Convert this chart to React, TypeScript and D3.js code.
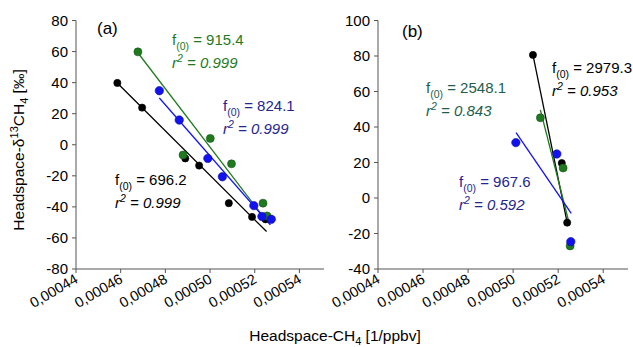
import { useRef, useEffect } from "react";
import * as d3 from "d3";

// shared x ticks (1/ppbv)
const xTicks = [0.00044, 0.00046, 0.00048, 0.0005, 0.00052, 0.00054];

// panel (a)
const aYTicks = [-80, -60, -40, -20, 0, 20, 40, 60, 80];
const aBlackX = [0.0004585, 0.0004696, 0.0004889, 0.0004951, 0.0005084, 0.0005188, 0.0005248];
const aBlackY = [39.8, 23.9, -8.8, -13.4, -37.6, -46.5, -48];
const aGreenX = [0.0004677, 0.0004879, 0.0005001, 0.0005096, 0.0005237, 0.0005255];
const aGreenY = [59.8, -6.6, 4.1, -12.3, -37.6, -45.8];
const aBlueX = [0.0004773, 0.0004862, 0.000499, 0.0005055, 0.0005196, 0.0005232, 0.0005274];
const aBlueY = [34.8, 15.9, -8.8, -20.6, -39.2, -46.2, -48];
// fit lines [x0, y0, x1, y1]
const aBlackFit = [0.0004587, 39.4, 0.0005253, -55.9];
const aGreenFit = [0.0004676, 59.4, 0.0005255, -49.5];
const aBlueFit = [0.0004773, 30.1, 0.000527, -51.6];

// panel (b)
const bYTicks = [-40, -20, 0, 20, 40, 60, 80, 100];
const bBlackX = [0.0005088, 0.0005216, 0.000524];
const bBlackY = [80.6, 19.7, -13.9];
const bGreenX = [0.0005121, 0.0005222, 0.0005253];
const bGreenY = [45.2, 16.9, -27];
const bBlueX = [0.0005012, 0.0005194, 0.0005256];
const bBlueY = [31.2, 24.8, -24.6];
const bBlackFit = [0.0005088, 80.6, 0.0005242, -15.2];
const bGreenFit = [0.0005121, 49.6, 0.000525, -14.8];
const bBlueFit = [0.0005013, 36.8, 0.0005258, -8.6];

const GREEN = "#1f7a1f";
const BLUE = "#1212f0";
const NAVY = "#25258f";
const TEAL = "#1f5e4c";
const FONT = "'Liberation Sans', Arial, sans-serif";

const App = () => {
  const svgRef = useRef<SVGSVGElement | null>(null);

  useEffect(() => {
    if (!svgRef.current) return;
    const svg = d3.select(svgRef.current);
    svg.selectAll("*").remove();
    svg.style("font-family", FONT);

    const fmt = (v: number) => v.toFixed(5).replace(".", ",");

    function panel(opts: any) {
      const x = d3.scaleLinear().domain([0.00044, 0.000551]).range(opts.xr);
      const y = d3.scaleLinear().domain(opts.yd).range([269, 20.5]);
      const g = svg.append("g");

      // axes
      g.append("line")
        .attr("x1", opts.xr[0]).attr("x2", opts.xr[0])
        .attr("y1", 20.5).attr("y2", 269)
        .attr("stroke", "#555").attr("stroke-width", 1);
      g.append("line")
        .attr("x1", opts.xr[0]).attr("x2", opts.xr[1])
        .attr("y1", 269).attr("y2", 269)
        .attr("stroke", "#555").attr("stroke-width", 1);

      opts.yTicks.forEach((t: number) => {
        g.append("line")
          .attr("x1", opts.xr[0] - 4).attr("x2", opts.xr[0])
          .attr("y1", y(t)).attr("y2", y(t))
          .attr("stroke", "#555");
        g.append("text")
          .attr("x", opts.xr[0] - 8).attr("y", y(t) + 5)
          .attr("text-anchor", "end")
          .style("font-size", "15px")
          .text(t);
      });

      xTicks.forEach((t) => {
        g.append("line")
          .attr("x1", x(t)).attr("x2", x(t))
          .attr("y1", 269).attr("y2", 273)
          .attr("stroke", "#555");
        g.append("text")
          .attr("transform", `translate(${x(t) + 3},${282}) rotate(-30)`)
          .attr("text-anchor", "end")
          .style("font-size", "14.5px")
          .text(fmt(t));
      });

      // fit lines
      opts.series.forEach((s: any) => {
        const f = s.fit;
        g.append("line")
          .attr("x1", x(f[0])).attr("y1", y(f[1]))
          .attr("x2", x(f[2])).attr("y2", y(f[3]))
          .attr("stroke", s.line).attr("stroke-width", 1.3);
      });

      // points
      opts.series.forEach((s: any) => {
        s.xs.forEach((xv: number, i: number) => {
          g.append("circle")
            .attr("cx", x(xv)).attr("cy", y(s.ys[i]))
            .attr("r", s.r)
            .attr("fill", s.color)
            .attr("stroke", d3.color(s.color)!.darker(1).toString())
            .attr("stroke-width", 0.6);
        });
      });

      // panel tag
      g.append("text")
        .attr("x", opts.tag[1]).attr("y", opts.tag[2])
        .style("font-size", "17px")
        .text(opts.tag[0]);

      // annotations
      opts.notes.forEach((n: any) => {
        const t1 = g.append("text")
          .attr("x", n.x).attr("y", n.y)
          .attr("fill", n.color)
          .style("font-size", "15px");
        t1.append("tspan").text("f");
        t1.append("tspan").attr("dy", 5).style("font-size", "10.5px").text("(0)");
        t1.append("tspan").attr("dy", -5).text(" = " + n.f);

        const t2 = g.append("text")
          .attr("x", n.x).attr("y", n.y + 22.5)
          .attr("fill", n.color)
          .style("font-size", "15px")
          .style("font-style", "italic");
        t2.append("tspan").text("r");
        t2.append("tspan").attr("dy", -6).style("font-size", "10.5px").text("2");
        t2.append("tspan").attr("dy", 6).text(" = " + n.r2);
      });
    }

    panel({
      xr: [76, 324],
      yd: [-80, 80],
      yTicks: aYTicks,
      tag: ["(a)", 97, 34],
      series: [
        { xs: aBlackX, ys: aBlackY, fit: aBlackFit, color: "#000", line: "#000", r: 3.6 },
        { xs: aGreenX, ys: aGreenY, fit: aGreenFit, color: GREEN, line: GREEN, r: 4 },
        { xs: aBlueX, ys: aBlueY, fit: aBlueFit, color: BLUE, line: BLUE, r: 4.2 },
      ],
      notes: [
        { x: 172, y: 45, color: GREEN, f: "915.4", r2: "0.999" },
        { x: 223, y: 111, color: NAVY, f: "824.1", r2: "0.999" },
        { x: 115, y: 185, color: "#000", f: "696.2", r2: "0.999" },
      ],
    });

    panel({
      xr: [378, 628],
      yd: [-40, 100],
      yTicks: bYTicks,
      tag: ["(b)", 402, 37],
      series: [
        { xs: bBlackX, ys: bBlackY, fit: bBlackFit, color: "#000", line: "#000", r: 3.6 },
        { xs: bGreenX, ys: bGreenY, fit: bGreenFit, color: GREEN, line: GREEN, r: 4 },
        { xs: bBlueX, ys: bBlueY, fit: bBlueFit, color: BLUE, line: BLUE, r: 4.2 },
      ],
      notes: [
        { x: 552, y: 73, color: "#000", f: "2979.3", r2: "0.953" },
        { x: 426, y: 93, color: TEAL, f: "2548.1", r2: "0.843" },
        { x: 459, y: 187, color: NAVY, f: "967.6", r2: "0.592" },
      ],
    });

    // y label
    const yl = svg.append("text")
      .attr("transform", "translate(24,150) rotate(-90)")
      .attr("text-anchor", "middle")
      .style("font-size", "15.5px");
    yl.append("tspan").text("Headspace-δ");
    yl.append("tspan").attr("dy", -6).style("font-size", "11px").text("13");
    yl.append("tspan").attr("dy", 6).text("CH");
    yl.append("tspan").attr("dy", 4).style("font-size", "11px").text("4");
    yl.append("tspan").attr("dy", -4).text(" [‰]");

    // x label
    const xl = svg.append("text")
      .attr("x", 335).attr("y", 341)
      .attr("text-anchor", "middle")
      .style("font-size", "15.5px");
    xl.append("tspan").text("Headspace-CH");
    xl.append("tspan").attr("dy", 4).style("font-size", "11px").text("4");
    xl.append("tspan").attr("dy", -4).text(" [1/ppbv]");
  }, []);

  return (
    <div style={{ position: "absolute", left: 0, top: 0 }}>
      <svg ref={svgRef} width={633} height={347} style={{ display: "block", background: "#fff" }} />
    </div>
  );
};

export default App;
